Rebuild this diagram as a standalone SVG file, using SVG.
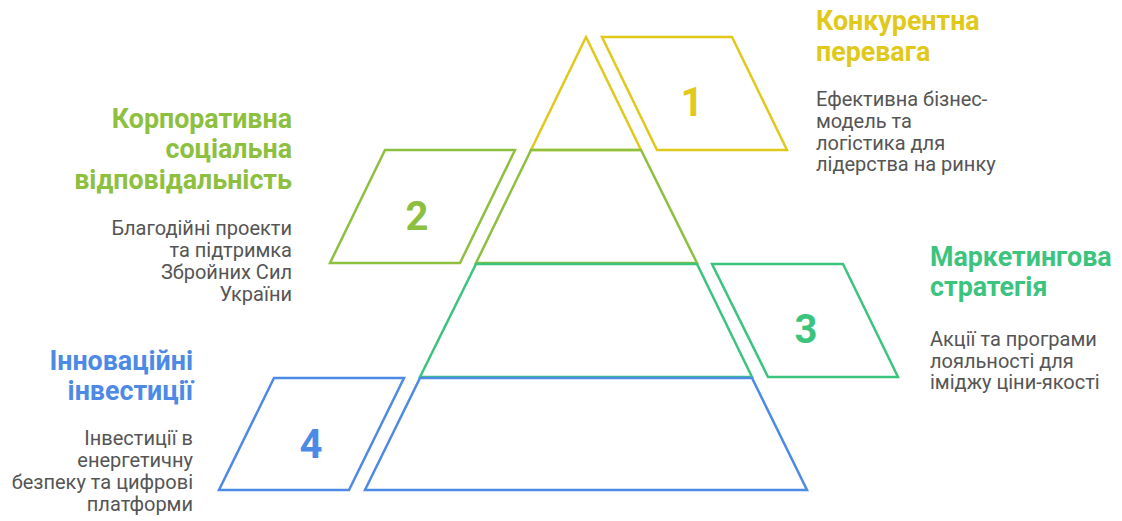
<svg xmlns="http://www.w3.org/2000/svg" width="1122" height="521" viewBox="0 0 1122 521">
<style>
.s{fill:none;stroke-width:2.5;stroke-linejoin:miter}
.t{font-family:Roboto,"Liberation Sans",sans-serif;font-weight:700;font-size:26.8px}
.d{font-family:Roboto,"Liberation Sans",sans-serif;font-size:20px;fill:#555555}
.n{font-family:Roboto,"Liberation Sans",sans-serif;font-weight:700;font-size:40px;text-anchor:middle}
.y{stroke:#e0c91a}.yf{fill:#e0c91a}
.g{stroke:#8dc03f}.gf{fill:#8dc03f}
.m{stroke:#3cc47f}.mf{fill:#3cc47f}
.b{stroke:#4d8ae6}.bf{fill:#4d8ae6}
.r{text-anchor:end}
</style>
<rect width="1122" height="521" fill="#ffffff"/>
<g id="layer1">
<polygon class="s y" points="586,37 641,150 531,150"/>
<polygon class="s y" points="602,37 732,37 787,150 657,150"/>
<text class="n yf" x="692" y="116">1</text>
<text class="t yf" x="816" y="30">Конкурентна</text>
<text class="t yf" x="816" y="61">перевага</text>
<text class="d" x="816" y="106">Ефективна бізнес-</text>
<text class="d" x="816" y="128">модель та</text>
<text class="d" x="816" y="149.5">логістика для</text>
<text class="d" x="816" y="171">лідерства на ринку</text>
</g>
<g id="layer2">
<polygon class="s g" points="531,150 641,150 697,263 476,263"/>
<polygon class="s g" points="385,150 515,150 460,263 330,263"/>
<text class="n gf" x="417" y="230">2</text>
<text class="t gf r" x="292" y="127.5">Корпоративна</text>
<text class="t gf r" x="292" y="158">соціальна</text>
<text class="t gf r" x="292" y="189">відповідальність</text>
<text class="d r" x="292" y="235">Благодійні проекти</text>
<text class="d r" x="292" y="257">та підтримка</text>
<text class="d r" x="292" y="279">Збройних Сил</text>
<text class="d r" x="292" y="301">України</text>
</g>
<g id="layer3">
<polygon class="s m" points="476,264 697,264 752,377 420,377"/>
<polygon class="s m" points="712,264 843,264 898,377 768,377"/>
<text class="n mf" x="806" y="343">3</text>
<text class="t mf" x="930" y="265.5">Маркетингова</text>
<text class="t mf" x="930" y="296">стратегія</text>
<text class="d" x="930" y="345.5">Акції та програми</text>
<text class="d" x="930" y="367.5">лояльності для</text>
<text class="d" x="930" y="389">іміджу ціни-якості</text>
</g>
<g id="layer4">
<polygon class="s b" points="420,378 752,378 807,490 365,490"/>
<polygon class="s b" points="274,378 404,378 349,490 219,490"/>
<text class="n bf" x="311" y="458">4</text>
<text class="t bf r" x="193" y="369.5">Інноваційні</text>
<text class="t bf r" x="193" y="400">інвестиції</text>
<text class="d r" x="193" y="445">Інвестиції в</text>
<text class="d r" x="193" y="467">енергетичну</text>
<text class="d r" x="193" y="489">безпеку та цифрові</text>
<text class="d r" x="193" y="511">платформи</text>
</g>
<g id="connectors"></g>
</svg>
